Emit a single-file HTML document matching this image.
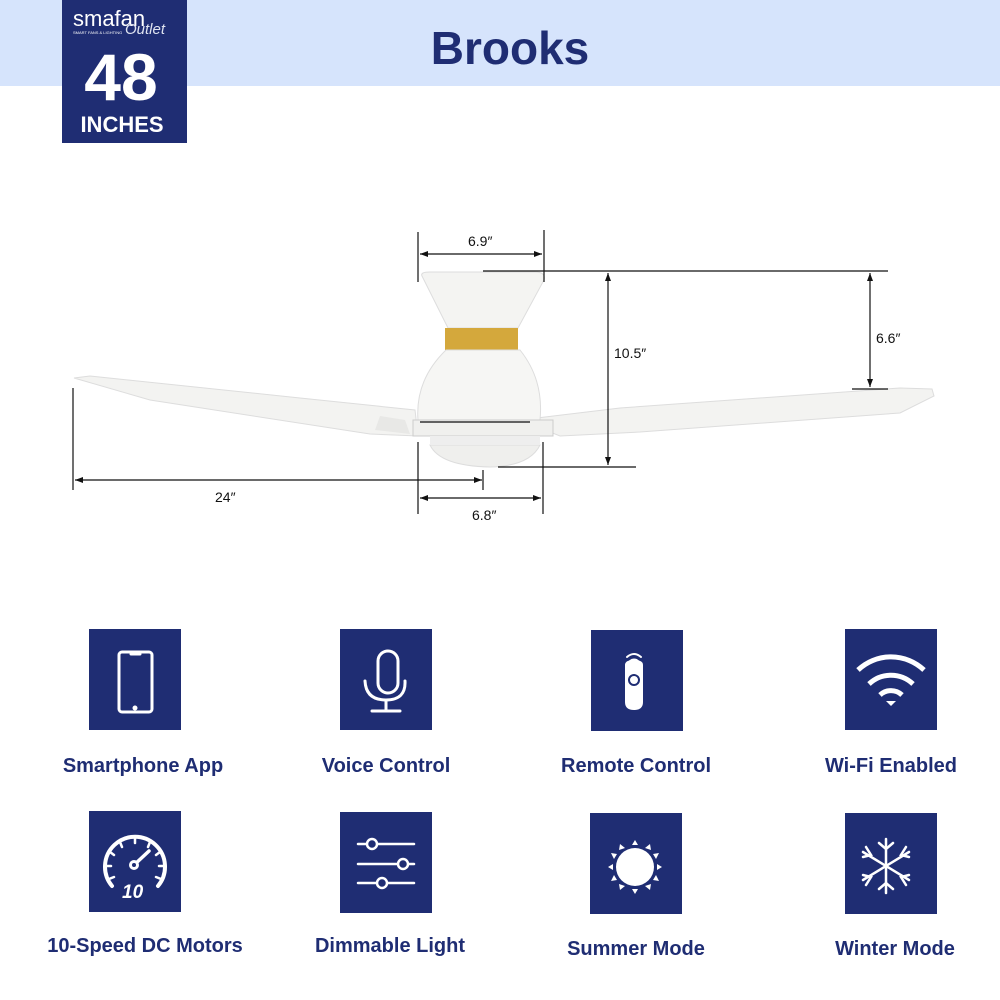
<!DOCTYPE html>
<html><head><meta charset="utf-8"><style>
html,body{margin:0;padding:0;background:#fff;}
svg{display:block}
text{font-family:"Liberation Sans",sans-serif}
</style></head><body>
<svg width="1000" height="1000" viewBox="0 0 1000 1000" xmlns="http://www.w3.org/2000/svg">
<rect x="0" y="0" width="1000" height="86" fill="#d6e4fc"/>
<text x="510" y="64" text-anchor="middle" font-size="46" font-weight="bold" fill="#1f2d73">Brooks</text>
<rect x="62" y="0" width="125" height="143" fill="#1f2d73"/>
<text x="73" y="26" font-size="22" fill="#fff">smafan</text>
<text x="125" y="34" font-size="15" font-style="italic" fill="#dfe3f0" font-family="Liberation Serif">Outlet</text>
<text x="73" y="34" font-size="4" fill="#fff">SMART FANS &amp; LIGHTING</text>
<text x="121" y="100" text-anchor="middle" font-size="66" font-weight="bold" fill="#fff">48</text>
<text x="122" y="132" text-anchor="middle" font-size="22" font-weight="bold" fill="#fff">INCHES</text>

<!-- fan -->
<g>
<path d="M74 378 L90 376 L300 398 L415 410 L418 436 L370 434 L150 400 Z" fill="#f3f3f1" stroke="#ddd" stroke-width="1"/>
<path d="M520 420 L620 408 L900 388 L932 389 L934 396 L900 413 L640 432 L560 436 Z" fill="#f3f3f1" stroke="#ddd" stroke-width="1"/>
<path d="M422 276 Q420 272 430 272 L535 272 Q546 272 544 280 L518 328 L448 328 Z" fill="#f4f4f2" stroke="#ddd"/>
<rect x="445" y="328" width="73" height="22" fill="#d4a83c"/>
<path d="M446 350 L520 350 Q544 380 540 420 L418 420 Q415 380 446 350 Z" fill="#f6f6f4" stroke="#ddd"/>
<rect x="413" y="420" width="140" height="16" fill="#f0f0ee" stroke="#ccc"/>
<line x1="420" y1="422" x2="530" y2="422" stroke="#333" stroke-width="1.5"/>
<rect x="430" y="436" width="110" height="8" fill="#eee"/>
<path d="M430 445 L540 445 Q530 466 490 467 Q440 466 430 445 Z" fill="#efefed" stroke="#ddd"/>
<path d="M380 416 L405 420 L410 434 L375 430 Z" fill="#e8e8e6"/>
</g>
<g stroke="#111" stroke-width="1.2" fill="none">
<line x1="418" y1="232" x2="418" y2="282"/>
<line x1="544" y1="230" x2="544" y2="282"/>
<line x1="420" y1="254" x2="542" y2="254"/>
<line x1="483" y1="271" x2="888" y2="271"/>
<line x1="852" y1="389" x2="888" y2="389"/>
<line x1="870" y1="273" x2="870" y2="387"/>
<line x1="608" y1="273" x2="608" y2="465"/>
<line x1="498" y1="467" x2="636" y2="467"/>
<line x1="73" y1="388" x2="73" y2="490"/>
<line x1="75" y1="480" x2="482" y2="480"/>
<line x1="483" y1="470" x2="483" y2="490"/>
<line x1="418" y1="442" x2="418" y2="514"/>
<line x1="543" y1="442" x2="543" y2="514"/>
<line x1="420" y1="498" x2="541" y2="498"/>
</g>
<g fill="#111">
<path d="M420 254 l8 -3 v6z"/><path d="M542 254 l-8 -3 v6z"/>
<path d="M870 273 l-3 8 h6z"/><path d="M870 387 l-3 -8 h6z"/>
<path d="M608 273 l-3 8 h6z"/><path d="M608 465 l-3 -8 h6z"/>
<path d="M75 480 l8 -3 v6z"/><path d="M482 480 l-8 -3 v6z"/>
<path d="M420 498 l8 -3 v6z"/><path d="M541 498 l-8 -3 v6z"/>
</g>
<g font-size="14" fill="#111">
<text x="468" y="246">6.9″</text>
<text x="876" y="343">6.6″</text>
<text x="614" y="358">10.5″</text>
<text x="215" y="502">24″</text>
<text x="472" y="520">6.8″</text>
</g>

<!-- icon boxes -->
<g fill="#1f2d73">
<rect x="89" y="629" width="92" height="101"/>
<rect x="340" y="629" width="92" height="101"/>
<rect x="591" y="630" width="92" height="101"/>
<rect x="845" y="629" width="92" height="101"/>
<rect x="89" y="811" width="92" height="101"/>
<rect x="340" y="812" width="92" height="101"/>
<rect x="590" y="813" width="92" height="101"/>
<rect x="845" y="813" width="92" height="101"/>
</g>
<!-- icons -->
<g fill="none" stroke="#fff" stroke-width="3" stroke-linecap="round">
<rect x="119" y="652" width="33" height="60" rx="3"/>
<line x1="131" y1="654" x2="140" y2="654"/>
<rect x="378" y="651" width="20" height="42" rx="10"/>
<path d="M365 681 Q366 700 386 700 Q406 700 405 681"/>
<line x1="386" y1="700" x2="386" y2="711"/><line x1="372" y1="711" x2="400" y2="711"/>
<path d="M627 657 Q634 651 641 657" stroke-width="2"/><path d="M630 661 Q634 658 638 661" stroke-width="2"/>
<path d="M112 886 A30 30 0 1 1 158 886" stroke-width="4"/>
<line x1="134" y1="865" x2="149" y2="851" stroke-width="3.5"/>
<line x1="358" y1="844" x2="414" y2="844" stroke-width="2.5"/>
<line x1="358" y1="864" x2="414" y2="864" stroke-width="2.5"/>
<line x1="358" y1="883" x2="414" y2="883" stroke-width="2.5"/>
<g stroke-width="2.5">
<line x1="886" y1="839" x2="886" y2="893"/>
<line x1="863" y1="852" x2="909" y2="880"/>
<line x1="863" y1="880" x2="909" y2="852"/>
<path d="M879 843 l7 6 l7 -6 M879 889 l7 -6 l7 6 M866 847 l5 8 l-8 2 M906 885 l-5 -8 l8 -2 M866 885 l5 -8 l-8 -2 M906 847 l-5 8 l8 2"/>
</g>
<g stroke-width="2.5">
<line x1="135" y1="838" x2="135" y2="843"/>
<line x1="120" y1="842" x2="122" y2="847"/>
<line x1="150" y1="842" x2="148" y2="847"/>
<line x1="110" y1="852" x2="114" y2="855"/>
<line x1="160" y1="852" x2="156" y2="855"/>
<line x1="106" y1="866" x2="111" y2="866"/>
<line x1="164" y1="866" x2="159" y2="866"/>
<line x1="109" y1="879" x2="114" y2="877"/>
<line x1="161" y1="879" x2="156" y2="877"/>
</g>
</g>
<g fill="none" stroke="#fff" stroke-width="5" stroke-linecap="butt">
<path d="M858 670 A48 48 0 0 1 924 670"/>
<path d="M869 684 A32 32 0 0 1 913 684"/>
<path d="M880 695 A16 16 0 0 1 902 695"/>
</g>
<path d="M886 701 L896 701 L891 706 Z" fill="#fff"/>
<g fill="#fff">
<circle cx="135" cy="708" r="2.5"/>
<path d="M625 665 Q625 660 634 660 Q643 660 643 665 L643 702 Q643 710 634 710 Q625 710 625 702 Z"/>
<circle cx="134" cy="865" r="5"/>
<circle cx="372" cy="844" r="5" stroke="#fff" stroke-width="2.5" fill="#1f2d73"/>
<circle cx="403" cy="864" r="5" stroke="#fff" stroke-width="2.5" fill="#1f2d73"/>
<circle cx="382" cy="883" r="5" stroke="#fff" stroke-width="2.5" fill="#1f2d73"/>
<circle cx="635" cy="867" r="19"/>
</g>
<circle cx="634" cy="680" r="5" fill="none" stroke="#1f2d73" stroke-width="2"/>
<circle cx="134" cy="865" r="2" fill="#1f2d73"/>
<g fill="#fff" font-size="19" font-weight="bold" font-style="italic"><text x="122" y="898">10</text></g>
<g fill="#fff">
<path d="M635 840 l3 5 h-6z M635 894 l3 -5 h-6z M608 867 l5 3 v-6z M662 867 l-5 3 v-6z"/>
<path d="M620 844 l5 4 l-6 2z M650 844 l-5 4 l6 2z M620 890 l5 -4 l-6 -2z M650 890 l-5 -4 l6 -2z"/>
<path d="M611 853 l6 1 l-3 5z M659 853 l-6 1 l3 5z M611 881 l6 -1 l-3 -5z M659 881 l-6 -1 l3 -5z"/>
</g>
<!-- labels -->
<g font-size="20" font-weight="bold" fill="#1f2d73" text-anchor="middle">
<text x="143" y="772">Smartphone App</text>
<text x="386" y="772">Voice Control</text>
<text x="636" y="772">Remote Control</text>
<text x="891" y="772">Wi-Fi Enabled</text>
<text x="145" y="952">10-Speed DC Motors</text>
<text x="390" y="952">Dimmable Light</text>
<text x="636" y="955">Summer Mode</text>
<text x="895" y="955">Winter Mode</text>
</g>
</svg>
</body></html>
